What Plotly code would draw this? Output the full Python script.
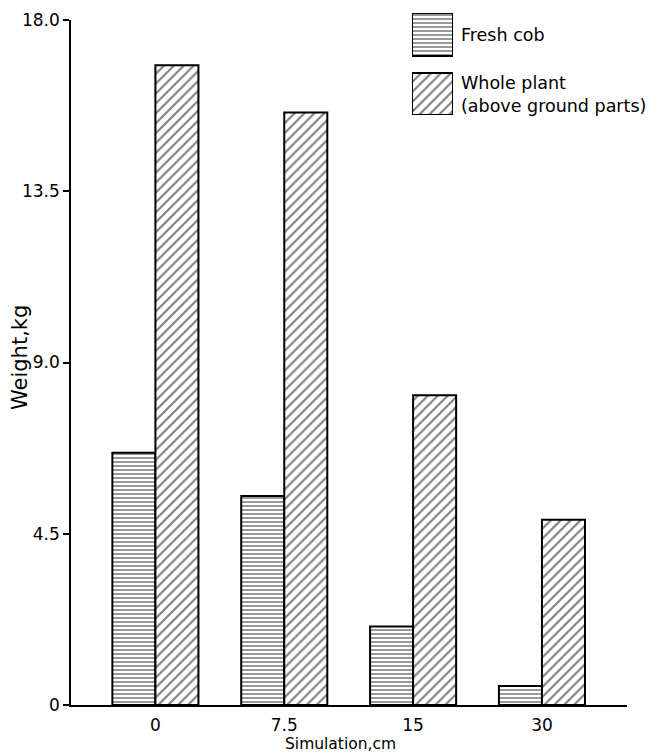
import plotly.graph_objects as go

categories = ["0", "7.5", "15", "30"]
fresh_cob = [6.63, 5.49, 2.06, 0.50]
whole_plant = [16.81, 15.57, 8.14, 4.87]
y_tickvals = [0, 4.5, 9.0, 13.5, 18.0]
y_ticktext = ["0", "4.5", "9.0", "13.5", "18.0"]
series_names = ["Fresh cob", "Whole plant<br>(above ground parts)"]

FONT = "DejaVu Sans"
OFF = 8  # page body margin
W, H = 657 - OFF, 755 - OFF
ML, MR, MT, MB = 71 - OFF, 657 - 627, 2, 755 - 705
plot_h = H - MT - MB
plot_w = W - ML - MR

def py(pix):  # reference pixel y -> paper fraction
    return (755 - MB - pix) / plot_h

def px(pix):
    return (pix - 71) / plot_w

cob_pattern = dict(shape="-", size=4, solidity=0.4, fgcolor="black", bgcolor="white")
whole_pattern = dict(shape="/", size=7, solidity=0.3, fgcolor="black", bgcolor="white")

fig = go.Figure()
fig.add_trace(go.Bar(x=categories, y=fresh_cob, name="Fresh cob",
                     marker=dict(color="white", pattern=cob_pattern,
                                 line=dict(color="black", width=2))))
fig.add_trace(go.Bar(x=categories, y=whole_plant, name="Whole plant",
                     marker=dict(color="white", pattern=whole_pattern,
                                 line=dict(color="black", width=2))))

# legend swatches drawn on an auxiliary axis
fig.add_trace(go.Bar(x=[0], y=[43], base=[59], xaxis="x2", yaxis="y2",
                     width=[1], offset=[-0.5], offsetgroup="leg",
                     marker=dict(color="white", pattern=cob_pattern,
                                 line=dict(color="black", width=2)),
                     showlegend=False, hoverinfo="skip"))
fig.add_trace(go.Bar(x=[0], y=[42], base=[0], xaxis="x2", yaxis="y2",
                     width=[1], offset=[-0.5], offsetgroup="leg",
                     marker=dict(color="white", pattern=whole_pattern,
                                 line=dict(color="black", width=2)),
                     showlegend=False, hoverinfo="skip"))

fig.update_layout(
    width=W, height=H,
    margin=dict(l=ML, r=MR, t=MT, b=MB, autoexpand=False),
    paper_bgcolor="white", plot_bgcolor="white",
    barmode="group", bargap=0.332, bargroupgap=0,
    showlegend=False,
    font=dict(family=FONT, size=16, color="black"),
    xaxis=dict(type="category", range=[-0.655, 3.66], showline=True, linecolor="black",
               linewidth=1.5, ticks="", showgrid=False, zeroline=False, automargin=False,
               tickfont=dict(size=17), ticklabelstandoff=4),
    yaxis=dict(range=[0, 18], domain=[0, py(20)], showline=True, linecolor="black",
               linewidth=1.5, ticks="outside", ticklen=6, tickwidth=1.5, automargin=False,
               tickcolor="black", tickvals=y_tickvals, ticktext=y_ticktext,
               showgrid=False, zeroline=False, tickfont=dict(size=17)),
    xaxis2=dict(domain=[px(412), px(453)], range=[-0.5, 0.5], visible=False,
                anchor="y2", automargin=False),
    yaxis2=dict(domain=[py(115), py(13)], range=[0, 102], visible=False, anchor="x2",
                automargin=False),
    annotations=[
        dict(text=series_names[0], xref="paper", yref="paper", x=px(459), y=py(35),
             xanchor="left", yanchor="middle", showarrow=False, font=dict(size=17.5)),
        dict(text=series_names[1], xref="paper", yref="paper", x=px(459), y=py(94),
             xanchor="left", yanchor="middle", showarrow=False, align="left",
             font=dict(size=17.5)),
        dict(text="Weight,kg", xref="paper", yref="paper", x=px(20), y=py(358),
             xanchor="center", yanchor="middle", textangle=-90, showarrow=False,
             font=dict(size=21)),
        dict(text="Simulation,cm", xref="paper", yref="paper", x=px(340), y=py(744),
             xanchor="center", yanchor="middle", showarrow=False, font=dict(size=15.5)),
    ],
)

fig.write_html("out.html")
